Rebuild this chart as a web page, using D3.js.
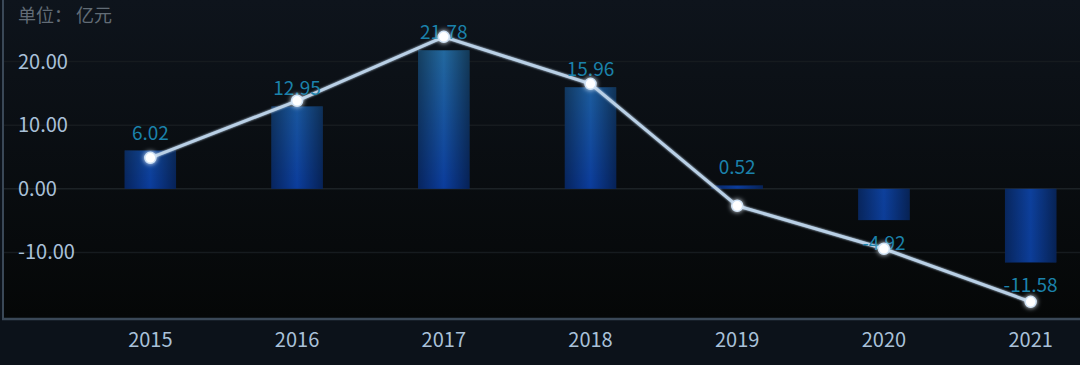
<!DOCTYPE html>
<html lang="zh">
<head>
<meta charset="UTF-8">
<title>chart</title>
<script src="https://cdn.jsdelivr.net/npm/d3@7/dist/d3.min.js"></script>
<style>
    * { box-sizing: border-box; padding: 0; margin: 0; border: 0; }
    body { background: #0c121a; width: 1080px; height: 365px; overflow: hidden; }
    text { font-family: "Noto Sans CJK SC", "Noto Sans", sans-serif; }
</style>
</head>
<body>
<svg width="1080" height="365"></svg>
<script>
    // 数据
    var years = ["2015", "2016", "2017", "2018", "2019", "2020", "2021"];
    var barValues = [6.02, 12.95, 21.78, 15.96, 0.52, -4.92, -11.58];
    var lineValues = [4.87, 13.84, 23.9, 16.5, -2.67, -9.43, -17.77];
    var yTicks = [-10, 0, 10, 20];

    var svg = d3.select("svg");
    var defs = svg.append("defs");

    // 面板背景
    var bg = defs.append("linearGradient").attr("id", "panelBg")
        .attr("x1", 0).attr("y1", 0).attr("x2", 0).attr("y2", 1);
    bg.append("stop").attr("offset", "0%").attr("stop-color", "#0e141c");
    bg.append("stop").attr("offset", "100%").attr("stop-color", "#050707");

    svg.append("rect").attr("x", 3).attr("y", 0).attr("width", 1077).attr("height", 318)
        .attr("fill", "url(#panelBg)");

    var x = d3.scaleBand().domain(years).range([77, 1104]).paddingInner(0.65).paddingOuter(0.325);
    var y = d3.scaleLinear().domain([-20, 30]).range([316, -2]);

    // 柱子渐变：竖直方向上亮下暗
    var gv = defs.append("linearGradient").attr("id", "barV")
        .attr("gradientUnits", "userSpaceOnUse")
        .attr("x1", 0).attr("y1", y(22)).attr("x2", 0).attr("y2", y(0));
    gv.append("stop").attr("offset", "0%").attr("stop-color", "#23699f");
    gv.append("stop").attr("offset", "100%").attr("stop-color", "#0b3c9c");

    var gn = defs.append("linearGradient").attr("id", "barN")
        .attr("x1", 0).attr("y1", 0).attr("x2", 0).attr("y2", 1);
    gn.append("stop").attr("offset", "0%").attr("stop-color", "#0d409c");
    gn.append("stop").attr("offset", "100%").attr("stop-color", "#0c3d98");

    // 两侧变暗
    var gh = defs.append("linearGradient").attr("id", "barH")
        .attr("x1", 0).attr("y1", 0).attr("x2", 1).attr("y2", 0);
    gh.append("stop").attr("offset", "0%").attr("stop-color", "#000").attr("stop-opacity", 0.4);
    gh.append("stop").attr("offset", "50%").attr("stop-color", "#000").attr("stop-opacity", 0);
    gh.append("stop").attr("offset", "100%").attr("stop-color", "#000").attr("stop-opacity", 0.45);

    var glow = defs.append("filter").attr("id", "glow")
        .attr("x", "-100%").attr("y", "-100%").attr("width", "300%").attr("height", "300%");
    glow.append("feGaussianBlur").attr("stdDeviation", 2.5).attr("result", "b");
    var fm = glow.append("feMerge");
    fm.append("feMergeNode").attr("in", "b");
    fm.append("feMergeNode").attr("in", "SourceGraphic");

    var lglow = defs.append("filter").attr("id", "lglow")
        .attr("x", "-10%").attr("y", "-10%").attr("width", "120%").attr("height", "120%");
    lglow.append("feGaussianBlur").attr("stdDeviation", 1.2).attr("result", "b");
    var lm = lglow.append("feMerge");
    lm.append("feMergeNode").attr("in", "b");
    lm.append("feMergeNode").attr("in", "SourceGraphic");

    // 网格线
    svg.append("g").selectAll("line").data(yTicks).enter().append("line")
        .attr("x1", 3).attr("x2", 1080)
        .attr("y1", function (d) { return y(d); })
        .attr("y2", function (d) { return y(d); })
        .attr("stroke", function (d) { return d === 0 ? "#1c2226" : "#161b1f"; })
        .attr("stroke-width", 1.5);

    // y轴标签
    svg.append("g").selectAll("text").data(yTicks).enter().append("text")
        .attr("x", 18)
        .attr("y", function (d) { return y(d); })
        .attr("dy", "0.35em")
        .attr("fill", "#a9c1d9")
        .attr("font-size", 20)
        .text(function (d) { return d.toFixed(2); });

    svg.append("text").attr("x", 18).attr("y", 22)
        .attr("fill", "#626c76").attr("font-size", 18)
        .text("单位： 亿元");

    // 柱子
    var bars = svg.append("g").selectAll("g").data(years).enter().append("g");
    bars.append("rect")
        .attr("x", function (d) { return x(d); })
        .attr("y", function (d, i) { return y(Math.max(0, barValues[i])); })
        .attr("width", x.bandwidth())
        .attr("height", function (d, i) { return Math.max(1.5, Math.abs(y(barValues[i]) - y(0))); })
        .attr("fill", function (d, i) { return barValues[i] >= 0 ? "url(#barV)" : "url(#barN)"; });
    bars.append("rect")
        .attr("x", function (d) { return x(d); })
        .attr("y", function (d, i) { return y(Math.max(0, barValues[i])); })
        .attr("width", x.bandwidth())
        .attr("height", function (d, i) { return Math.max(1.5, Math.abs(y(barValues[i]) - y(0))); })
        .attr("fill", "url(#barH)");

    // 折线
    var line = d3.line()
        .x(function (d, i) { return x(years[i]) + x.bandwidth() / 2; })
        .y(function (d) { return y(d); });
    svg.append("path").datum(lineValues)
        .attr("d", line)
        .attr("fill", "none")
        .attr("stroke", "#b9d0e6")
        .attr("stroke-width", 3)
        .attr("filter", "url(#lglow)");

    // 数值标签
    svg.append("g").selectAll("text").data(years).enter().append("text")
        .attr("x", function (d) { return x(d) + x.bandwidth() / 2; })
        .attr("y", function (d, i) {
            var v = barValues[i];
            return v >= 0 ? y(v) - 11 : y(v) + 30;
        })
        .attr("text-anchor", "middle")
        .attr("fill", "#1b82ab")
        .attr("font-size", 19)
        .text(function (d, i) { return barValues[i].toFixed(2); });

    // 折线点
    svg.append("g").selectAll("circle").data(lineValues).enter().append("circle")
        .attr("cx", function (d, i) { return x(years[i]) + x.bandwidth() / 2; })
        .attr("cy", function (d) { return y(d); })
        .attr("r", 5.5)
        .attr("fill", "#ffffff")
        .attr("stroke", "#cfe2f5")
        .attr("stroke-width", 1.5)
        .attr("filter", "url(#glow)");

    // 面板边框
    svg.append("line").attr("x1", 3).attr("x2", 3).attr("y1", 0).attr("y2", 319)
        .attr("stroke", "#3a4857").attr("stroke-width", 2);
    svg.append("line").attr("x1", 2).attr("x2", 1080).attr("y1", 319).attr("y2", 319)
        .attr("stroke", "#3a4857").attr("stroke-width", 2.5);

    // x轴标签
    var xAxis = d3.axisBottom(x).tickSize(0).tickPadding(0);
    var ax = svg.append("g").attr("transform", "translate(0,333)").call(xAxis);
    ax.select(".domain").remove();
    ax.selectAll("text")
        .attr("fill", "#a9c1d9")
        .attr("font-size", 20)
        .attr("font-family", "Noto Sans CJK SC")
        .attr("dy", "0.72em");
</script>
</body>
</html>
